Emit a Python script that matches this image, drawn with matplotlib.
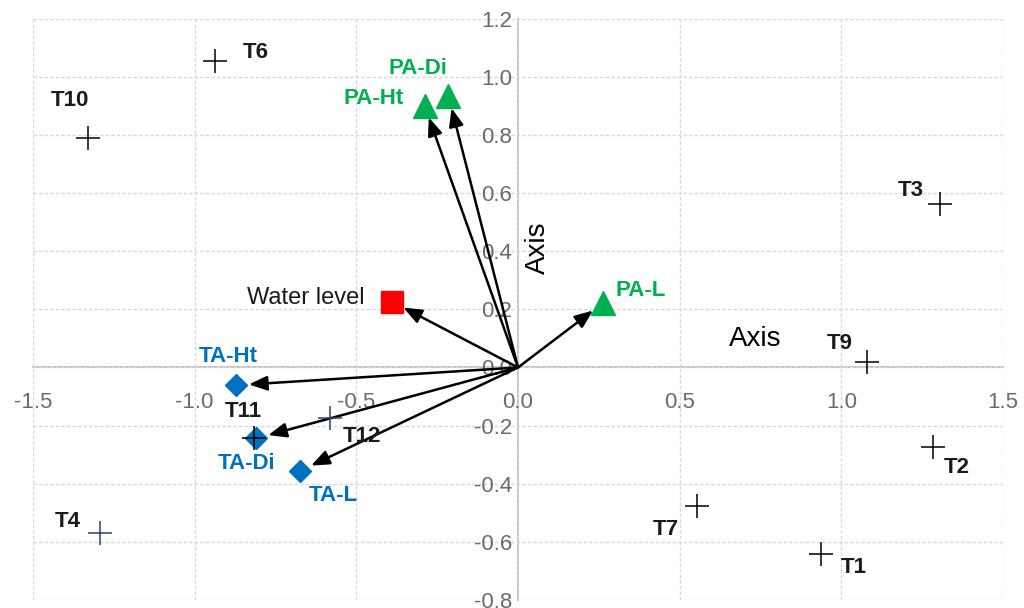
import matplotlib
matplotlib.use("Agg")
import matplotlib.pyplot as plt

plt.rcParams["font.family"] = ["Liberation Sans", "DejaVu Sans"]

# --- data ------------------------------------------------------------------
# sites (plus markers)
site_names = ["T1", "T2", "T3", "T4", "T6", "T7", "T9", "T10", "T11", "T12"]
site_x = [0.936, 1.284, 1.306, -1.294, -0.937, 0.555, 1.080, -1.331, -0.818, -0.582]
site_y = [-0.642, -0.272, 0.562, -0.568, 1.055, -0.476, 0.020, 0.791, -0.243, -0.174]
site_colors = ["#000000", "#000000", "#000000", "#2f3f6f", "#000000",
               "#000000", "#000000", "#000000", "#000000", "#2f3f6f"]

# variables (vectors from origin)
pa_names = ["PA-Ht", "PA-Di", "PA-L"]
pa_x = [-0.289, -0.215, 0.263]
pa_y = [0.901, 0.934, 0.222]

ta_names = ["TA-Ht", "TA-Di", "TA-L"]
ta_x = [-0.871, -0.810, -0.675]
ta_y = [-0.061, -0.244, -0.356]

wl_names = ["Water level"]
wl_x = [-0.389]
wl_y = [0.226]

x_ticks = [-1.5, -1.0, -0.5, 0.0, 0.5, 1.0, 1.5]
y_ticks = [-0.8, -0.6, -0.4, -0.2, 0.0, 0.2, 0.4, 0.6, 0.8, 1.0, 1.2]

# label offsets (points) relative to their marker
site_offsets = {"T1": (24, -10), "T2": (17, -15), "T3": (-21, 10), "T4": (-23, 8),
                "T6": (29, 6), "T7": (-23, -17), "T9": (-20, 13), "T10": (-13, 27),
                "T11": (-7, 19), "T12": (23, -13)}
pa_offsets = {"PA-Ht": (-37, 5), "PA-Di": (-22, 20), "PA-L": (27, 9)}
ta_offsets = {"TA-Ht": (-6, 21), "TA-Di": (-7, -18), "TA-L": (24, -18)}
wl_offsets = {"Water level": (-62, 3)}

GREEN, BLUE, RED = "#00b050", "#0070c0", "#ff0000"
GRID, AXLINE, TICK = "#d9d9d9", "#bfbfbf", "#6b6b6b"

fig = plt.figure(figsize=(10.24, 6.08), dpi=100)
ax = fig.add_axes([33 / 1024, 8 / 608, 970 / 1024, 581.3 / 608])
ax.set_xlim(-1.5, 1.5)
ax.set_ylim(-0.8, 1.2)
ax.set_xticks(x_ticks)
ax.set_yticks(y_ticks)
ax.set_xticklabels([f"{v:.1f}" for v in x_ticks])
ax.set_yticklabels([f"{v:.1f}" for v in y_ticks])
ax.grid(color=GRID, lw=1.0, ls=(0, (2.5, 1.5)))
ax.set_axisbelow(True)

for s in ("top", "right"):
    ax.spines[s].set_visible(False)
ax.spines["left"].set_position(("data", 0))
ax.spines["bottom"].set_position(("data", 0))
for s in ("left", "bottom"):
    ax.spines[s].set_color(AXLINE)
    ax.spines[s].set_linewidth(1.3)
    ax.spines[s].set_zorder(0.5)
ax.tick_params(axis="x", length=0, pad=18, labelsize=16, labelcolor=TICK)
ax.tick_params(axis="y", length=0, pad=4, labelsize=16, labelcolor=TICK)

# arrows from the origin
arrow_kw = dict(arrowstyle="-|>,head_length=0.55,head_width=0.22", color="black",
                lw=1.8, mutation_scale=20, shrinkA=0, shrinkB=9)
for xs, ys in ((pa_x, pa_y), (ta_x, ta_y), (wl_x, wl_y)):
    for x, y in zip(xs, ys):
        ax.annotate("", xy=(x, y), xytext=(0, 0), arrowprops=arrow_kw, zorder=3)

# markers
for x, y, c in zip(site_x, site_y, site_colors):
    ax.plot(x, y, marker="+", ms=17, mew=1.1, color=c, ls="none", zorder=5)
ax.plot(pa_x, pa_y, marker="^", ms=17, color=GREEN, ls="none", zorder=4)
ax.plot(ta_x, ta_y, marker="D", ms=11.5, color=BLUE, ls="none", zorder=4)
ax.plot(wl_x, wl_y, marker="s", ms=15.5, color=RED, ls="none", zorder=4)

# labels
def label(names, xs, ys, offsets, color, weight="bold", size=16):
    for n, x, y in zip(names, xs, ys):
        ax.annotate(n, (x, y), xytext=offsets[n], textcoords="offset points",
                    ha="center", va="center", color=color, fontsize=size,
                    fontweight=weight, zorder=6)

label(site_names, site_x, site_y, site_offsets, "#1a1a1a")
label(pa_names, pa_x, pa_y, pa_offsets, GREEN)
label(ta_names, ta_x, ta_y, ta_offsets, BLUE)
label(wl_names, wl_x, wl_y, wl_offsets, "#1a1a1a", weight="normal", size=17)

# leftover axis titles from the source chart
ax.text(0.061, 0.412, "Axis", rotation=90, ha="center", va="center", fontsize=20)
ax.text(0.735, 0.099, "Axis", ha="center", va="center", fontsize=20)

fig.savefig("out.png", dpi=100)
